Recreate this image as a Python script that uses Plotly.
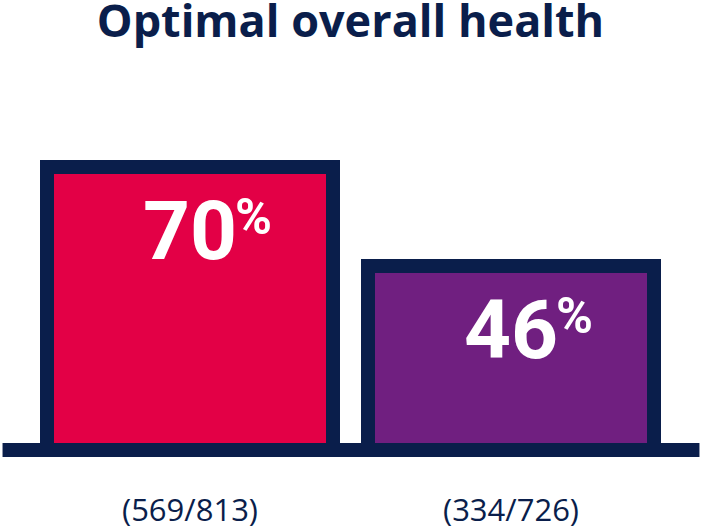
import plotly.graph_objects as go

categories = ["Group A", "Group B"]
percent_values = [70, 46]
count_labels = ["(569/813)", "(334/726)"]
bar_colors = ["#E30046", "#701F80"]
title_text = "Optimal overall health"

NAVY = "#0A1E4B"
W, H = 702, 527
L, R, T, B = 28.5, 29.5, 90, 71
plot_h = H - T - B  # 366
px_per_unit = 4.125
y_max = plot_h / px_per_unit

fig = go.Figure()
fig.add_trace(go.Bar(
    x=categories,
    y=percent_values,
    width=0.891,
    marker=dict(color=bar_colors, line=dict(color=NAVY, width=14)),
    hoverinfo="skip",
))

annotations = []
for cat, val, lab in zip(categories, percent_values, count_labels):
    annotations.append(dict(
        x=cat, y=val, xref="x", yref="y", text=f"<b>{val}</b>",
        showarrow=False, xanchor="center", yanchor="middle", yshift=-64,
        font=dict(family="Roboto", size=82, color="white"),
    ))
    annotations.append(dict(
        x=cat, y=val, xref="x", yref="y", text="<b>%</b>",
        showarrow=False, xanchor="left", yanchor="middle", yshift=-50, xshift=43,
        font=dict(family="Roboto", size=50, color="white"),
    ))
    annotations.append(dict(
        x=cat, y=-(509 - (H - B)) / plot_h, xref="x", yref="paper", text=lab,
        showarrow=False, xanchor="center", yanchor="middle",
        font=dict(family="Open Sans", size=31, color=NAVY),
    ))

fig.update_layout(
    width=W, height=H,
    margin=dict(l=L, r=R, t=T, b=B, pad=0),
    paper_bgcolor="white", plot_bgcolor="white",
    showlegend=False,
    title=dict(text=f"<b>{title_text}</b>", x=0.5, xref="paper", xanchor="center",
               y=1 - 21 / H, yref="container", yanchor="middle",
               font=dict(family="Open Sans", size=45, color=NAVY)),
    xaxis=dict(range=[-0.5, 1.5], showticklabels=False, showgrid=False, zeroline=False,
               showline=False, ticks=""),
    yaxis=dict(range=[0, y_max], visible=False, showgrid=False, zeroline=False),
    annotations=annotations,
    shapes=[dict(type="rect", xref="paper", yref="paper",
                 x0=(2 - L) / (W - L - R), x1=(700 - L) / (W - L - R),
                 y0=((H - B) - 457) / plot_h, y1=((H - B) - 443) / plot_h,
                 fillcolor=NAVY, line=dict(width=0), layer="above")],
    bargap=0,
)

fig.write_html("out.html")
